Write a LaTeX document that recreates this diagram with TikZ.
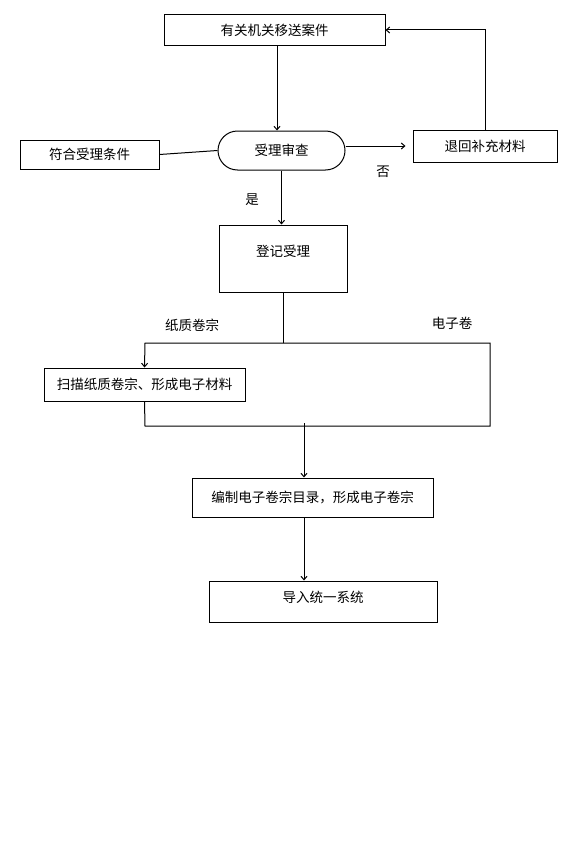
\documentclass[tikz,border=0pt]{standalone}
\usepackage{fontspec}
\setmainfont{Noto Sans CJK SC}
\usetikzlibrary{arrows.meta,shapes.misc}
\begin{document}
\begin{tikzpicture}[x=1pt,y=-1pt,
  every node/.style={font=\fontsize{13.5pt}{16pt}\selectfont, inner sep=0pt},
  box/.style={draw, line width=1pt, rectangle},
  stadium/.style={draw, line width=1pt, rounded rectangle},
  conn/.style={line width=1pt},
  arr/.style={line width=1pt, -{Straight Barb[length=3.5pt,width=6pt]}},
  lbl/.style={}]
\useasboundingbox (0,0) rectangle (571,867);
\fill[white] (0,0) rectangle (571,867);
% nodes
\node[box, minimum width=221pt, minimum height=31pt] (box1) at (274.5,30) {有关机关移送案件};
\node[stadium, minimum width=127pt, minimum height=39pt] (sl) at (281.5,150.5) {受理审查};
\node[box, minimum width=139pt, minimum height=29pt] (fuhe) at (89.5,154.5) {符合受理条件};
\node[box, minimum width=144pt, minimum height=32pt] (tuihui) at (485,146) {退回补充材料};
\node[box, minimum width=128pt, minimum height=67pt, text height=10pt, text depth=14pt] (dengji) at (283,258.5) {登记受理};
\node[box, minimum width=201pt, minimum height=33pt] (saomiao) at (144.5,384.5) {扫描纸质卷宗、形成电子材料};
\node[box, minimum width=241pt, minimum height=39pt] (bianzhi) at (312.5,497.5) {编制电子卷宗目录，形成电子卷宗};
\node[box, minimum width=228pt, minimum height=41pt, text height=10pt, text depth=8pt] (daoru) at (323,601.5) {导入统一系统};
% labels
\node[lbl] (fou) at (383,172) {否};
\node[lbl] (shi) at (252,200) {是};
\node[lbl] (zhizhi) at (192,325) {纸质卷宗};
\node[lbl] (dianzi) at (452,323) {电子卷};
% loop corners
\coordinate (lt) at (145,343);
\coordinate (rt) at (490,343);
\coordinate (rb) at (490,426);
\coordinate (lb) at (145,426);
\coordinate (m) at (304,423);
% connectors
\draw[arr] ([xshift=2.5pt]box1.south) -- ([xshift=2.5pt]box1.south |- sl.north);
\draw[conn] (fuhe.east) -- (sl.west);
\draw[arr] (sl.east |- tuihui.west) -- ([xshift=-7pt]tuihui.west);
\draw[arr] (tuihui.north) |- (box1.east);
\draw[arr] (sl.south) -- (sl.south |- dengji.north);
\draw[conn] (dengji.south) -- (dengji.south |- lt);
\draw[arr] (dengji.south |- lt) -- (lt) -- (saomiao.north);
\draw[conn] (saomiao.south) -- (lb) -- (rb) -- (rt) -- (dengji.south |- rt);
\draw[arr] (m) -- (m |- bianzhi.north);
\draw[arr] (m |- bianzhi.south) -- (m |- daoru.north);
\end{tikzpicture}
\end{document}
